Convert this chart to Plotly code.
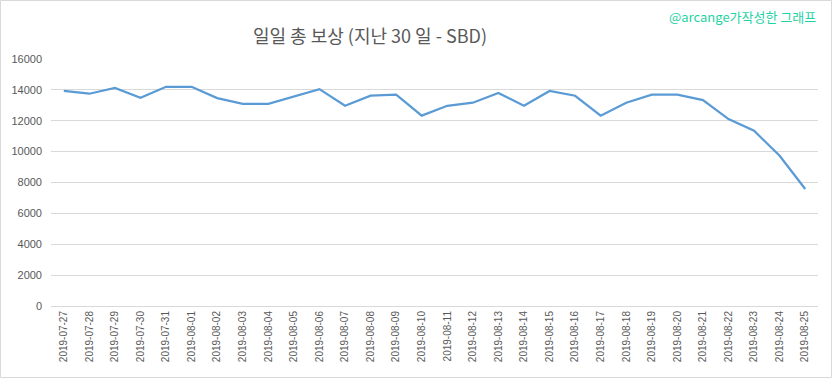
import plotly.graph_objects as go

dates = ["2019-07-27", "2019-07-28", "2019-07-29", "2019-07-30", "2019-07-31",
         "2019-08-01", "2019-08-02", "2019-08-03", "2019-08-04", "2019-08-05",
         "2019-08-06", "2019-08-07", "2019-08-08", "2019-08-09", "2019-08-10",
         "2019-08-11", "2019-08-12", "2019-08-13", "2019-08-14", "2019-08-15",
         "2019-08-16", "2019-08-17", "2019-08-18", "2019-08-19", "2019-08-20",
         "2019-08-21", "2019-08-22", "2019-08-23", "2019-08-24", "2019-08-25"]
sbd_rewards = [13930, 13750, 14120, 13490, 14200,
               14200, 13470, 13100, 13100, 13600,
               14050, 12970, 13620, 13690, 12330,
               12970, 13170, 13800, 12970, 13930,
               13620, 12330, 13170, 13690, 13690,
               13340, 12110, 11350, 9730, 7580]
y_ticks = [0, 2000, 4000, 6000, 8000, 10000, 12000, 14000, 16000]

W, H = 833, 379
ml, mr, mt, mb = 51, 15, 59, 73
pw, ph = W - ml - mr, H - mt - mb

fig = go.Figure()
fig.add_trace(go.Scatter(
    x=dates, y=sbd_rewards, mode="lines",
    line=dict(color="#5B9BD5", width=2.25),
    hoverinfo="x+y", showlegend=False,
))

font_family = "Noto Sans CJK KR, Open Sans, sans-serif"
fig.update_layout(
    width=W, height=H,
    margin=dict(l=ml, r=mr, t=mt, b=mb, autoexpand=False),
    paper_bgcolor="white", plot_bgcolor="white",
    font=dict(family=font_family, color="#595959"),
    title=dict(text="일일 총 보상 (지난 30 일 - SBD)",
               x=370 / W, xanchor="center", y=1 - 37 / H, yanchor="middle",
               font=dict(size=18, color="#595959", family=font_family)),
    xaxis=dict(type="category", range=[-0.5, len(dates) - 0.5],
               tickangle=-90, tickfont=dict(size=10, color="#595959", family="Liberation Sans, Arial"),
               showgrid=False, showline=True, linecolor="#D9D9D9", linewidth=1,
               ticks="", fixedrange=True),
    yaxis=dict(range=[0, 16000], tickvals=y_ticks,
               ticktext=[str(v) for v in y_ticks],
               tickfont=dict(size=11, color="#595959", family="Liberation Sans, Arial"),
               showgrid=True, gridcolor="#D9D9D9", gridwidth=1,
               zeroline=False, showline=False, ticks="", ticklabelstandoff=8,
               fixedrange=True),
    annotations=[dict(
        text="@arcange가작성한 그래프", xref="paper", yref="paper",
        x=(818 - ml) / pw, xanchor="right",
        y=1 + (mt - 17) / ph, yanchor="middle", showarrow=False,
        font=dict(size=13, color="#1FD3A4", family=font_family),
    )],
    shapes=[dict(
        type="rect", xref="paper", yref="paper",
        x0=(-ml + 0.5) / pw, x1=(W - ml - 1.5) / pw,
        y0=-(mb - 1.5) / ph, y1=1 + (mt - 0.5) / ph,
        line=dict(color="#D9D9D9", width=1), fillcolor="rgba(0,0,0,0)",
        layer="below",
    )],
)

fig.write_html("out.html", config={"displayModeBar": False},
               post_script="document.body.style.margin='0';document.body.style.overflow='hidden';")
